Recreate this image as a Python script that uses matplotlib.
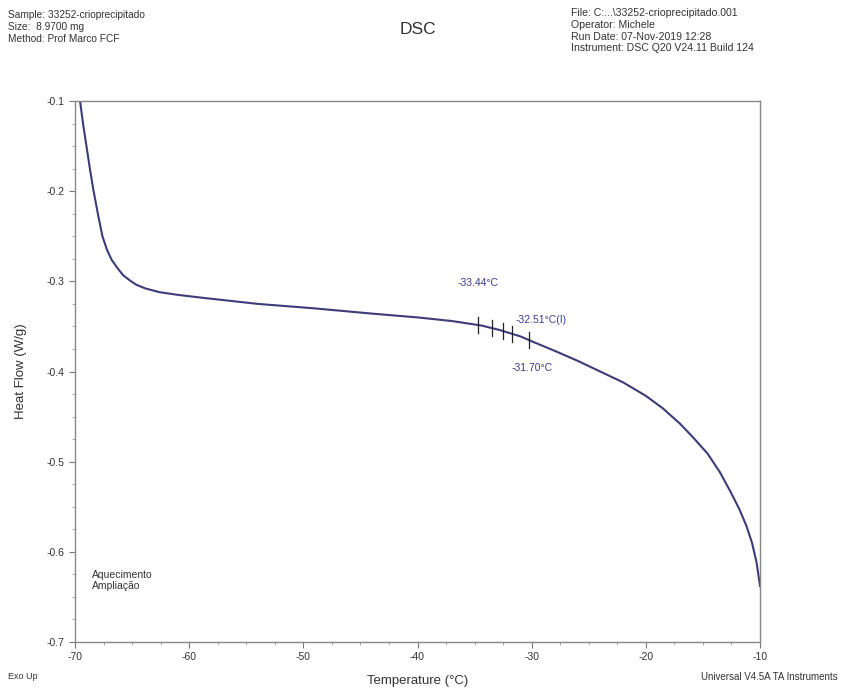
import numpy as np
import matplotlib.pyplot as plt

plt.rcParams['font.family'] = ['Liberation Sans', 'DejaVu Sans']

# curve: temperature (°C) and heat flow (W/g)
temperature = [-69.56, -69.3, -69.0, -68.7, -68.4, -68.0, -67.6, -67.2, -66.8, -66.3,
               -65.8, -65.2, -64.6, -63.8, -62.6, -61.0, -59.0, -54.0, -49.0, -43.8,
               -40.0, -37.0, -34.4, -32.8, -31.0, -29.9, -28.0, -26.0, -24.0, -22.0, -20.0,
               -18.5, -17.0, -15.8, -14.6, -13.5, -12.6, -11.8, -11.2, -10.7, -10.3,
               -10.0]
heat_flow = [-0.100, -0.125, -0.150, -0.175, -0.198, -0.225, -0.250, -0.265, -0.276, -0.285,
             -0.293, -0.299, -0.304, -0.308, -0.312, -0.315, -0.318, -0.325, -0.330, -0.336,
             -0.340, -0.344, -0.349, -0.354, -0.361, -0.367, -0.377, -0.388, -0.400, -0.412, -0.427,
             -0.441, -0.458, -0.474, -0.491, -0.512, -0.533, -0.553, -0.571, -0.590, -0.612,
             -0.638]

# glass transition markers
tg_marks = [-34.7, -33.44, -32.51, -31.70, -30.2]

line_col = '#3c3c78'
txt_col = '#333333'
ann_col = '#3a3a96'

fig = plt.figure(figsize=(8.44, 6.92), dpi=100)
ax = fig.add_axes([0.0889, 0.0723, 0.8116, 0.7817])

ax.plot(temperature, heat_flow, color=line_col, linewidth=1.5)

mark_y = np.interp(tg_marks, temperature, heat_flow)
for t, y in zip(tg_marks, mark_y):
    ax.plot([t, t], [y + 0.009, y - 0.009], color='#222222', linewidth=0.9)

ax.text(-34.7, -0.302, '-33.44°C', color=ann_col, fontsize=7.5, ha='center', va='center')
ax.text(-31.4, -0.343, '-32.51°C(I)', color=ann_col, fontsize=7.5, ha='left', va='center')
ax.text(-30.0, -0.396, '-31.70°C', color=ann_col, fontsize=7.5, ha='center', va='center')

ax.set_xlim(-70, -10)
ax.set_ylim(-0.7, -0.1)
ax.set_xticks(np.arange(-70, -9, 10))
ax.set_xticks(np.arange(-70, -9, 2.5), minor=True)
ax.set_yticks(np.arange(-0.7, -0.09, 0.1))
ax.set_yticks(np.arange(-0.7, -0.09, 0.025), minor=True)
ax.set_xticklabels(['-70', '-60', '-50', '-40', '-30', '-20', '-10'])
ax.set_yticklabels(['-0.7', '-0.6', '-0.5', '-0.4', '-0.3', '-0.2', '-0.1'])
ax.tick_params(which='major', direction='out', length=4, labelsize=7.5,
               colors='#777777', labelcolor=txt_col)
ax.tick_params(which='minor', direction='out', length=2.5, colors='#999999')
for s in ax.spines.values():
    s.set_color('#888888')
    s.set_linewidth(1.0)

ax.set_ylabel('Heat Flow (W/g)', fontsize=9.5, color=txt_col, labelpad=14)
ax.set_xlabel('Temperature (°C)', fontsize=9.5, color=txt_col, labelpad=9)

ax.text(-68.5, -0.632, 'Aquecimento\nAmpliação', fontsize=7.5, color=txt_col,
        va='center', linespacing=1.2)

# header
fig.text(0.0095, 0.985, 'Sample: 33252-crioprecipitado\nSize:  8.9700 mg\nMethod: Prof Marco FCF',
         fontsize=7.3, color=txt_col, va='top', linespacing=1.25)
fig.text(0.495, 0.958, 'DSC', fontsize=12.5, color=txt_col, ha='center', va='center')
fig.text(0.676, 0.988, 'File: C:...\\33252-crioprecipitado.001\nOperator: Michele\n'
         'Run Date: 07-Nov-2019 12:28\nInstrument: DSC Q20 V24.11 Build 124',
         fontsize=7.6, color=txt_col, va='top', linespacing=1.2)

# footer
fig.text(0.0095, 0.022, 'Exo Up', fontsize=6.5, color=txt_col, va='center')
fig.text(0.993, 0.022, 'Universal V4.5A TA Instruments', fontsize=7, color=txt_col,
         ha='right', va='center')

fig.savefig('out.png', dpi=100)
